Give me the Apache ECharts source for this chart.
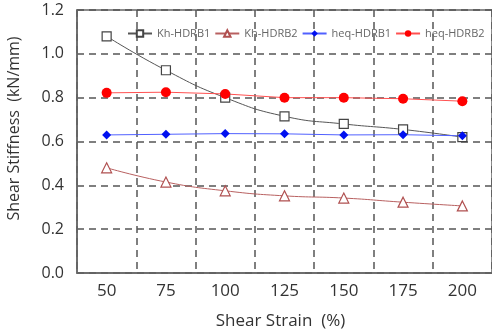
<!DOCTYPE html>
<html>
<head>
<meta charset="utf-8">
<script src="https://cdn.jsdelivr.net/npm/echarts@6/dist/echarts.min.js"></script>
<style>
  html, body { margin: 0; padding: 0; background: #fff; }
  #chart { width: 492px; height: 333px; }
</style>
</head>
<body>
<div id="chart"></div>
<script>
// 剪切应变 (%)
var strains = ['50', '75', '100', '125', '150', '175', '200'];

var khHDRB1 = [1.08, 0.925, 0.80, 0.715, 0.68, 0.655, 0.62];
var khHDRB2 = [0.48, 0.415, 0.375, 0.352, 0.342, 0.323, 0.306];
var heqHDRB1 = [0.63, 0.633, 0.636, 0.635, 0.63, 0.631, 0.626];
var heqHDRB2 = [0.822, 0.825, 0.817, 0.80, 0.80, 0.795, 0.784];

var mcharts = echarts.init(document.getElementById('chart'));

var option = {
    animation: false,
    textStyle: {
        fontFamily: 'Open Sans'
    },
    grid: {
        left: 77,
        right: 0,
        top: 10,
        bottom: 60,
        show: true,
        borderColor: '#666',
        borderWidth: 1.5,
        outerBoundsMode: 'none'
    },
    legend: {
        top: 23,
        left: 122,
        itemWidth: 24,
        itemHeight: 8,
        itemGap: 4,
        textStyle: {
            fontSize: 11,
            color: '#666'
        },
        data: ['Kh-HDRB1', 'Kh-HDRB2', 'heq-HDRB1', 'heq-HDRB2']
    },
    xAxis: {
        type: 'category',
        data: strains,
        boundaryGap: true,
        name: 'Shear Strain  (%)',
        nameLocation: 'center',
        nameGap: 40,
        nameTextStyle: { fontSize: 17, color: '#333', padding: [0, 8, 0, 0] },
        axisLine: { lineStyle: { color: '#666', width: 1.5 } },
        axisTick: { show: false },
        axisLabel: { fontSize: 17, color: '#333', margin: 10 },
        splitLine: {
            show: true,
            lineStyle: { color: '#555', type: [7, 5], width: 1.5 }
        }
    },
    yAxis: {
        type: 'value',
        min: 0,
        max: 1.2,
        interval: 0.2,
        name: 'Shear Stiffness  (kN/mm)',
        nameLocation: 'center',
        nameRotate: 90,
        nameGap: 55,
        nameTextStyle: { fontSize: 16, color: '#333', padding: [0, 0, 0, 26] },
        axisLine: { show: true, lineStyle: { color: '#666', width: 1.5 } },
        axisTick: { show: false },
        axisLabel: {
            fontSize: 16,
            color: '#333',
            margin: 13,
            formatter: function (v) { return v.toFixed(1); }
        },
        splitLine: {
            show: true,
            lineStyle: { color: '#555', type: [7, 5], width: 1.5 }
        }
    },
    series: [
        {
            name: 'Kh-HDRB1',
            type: 'line',
            data: khHDRB1,
            smooth: true,
            symbol: 'rect',
            symbolSize: 9,
            lineStyle: { color: '#555', width: 1 },
            itemStyle: { color: '#fff', borderColor: '#444', borderWidth: 1.2 },
            z: 3
        },
        {
            name: 'Kh-HDRB2',
            type: 'line',
            data: khHDRB2,
            smooth: true,
            symbol: 'triangle',
            symbolSize: 10,
            lineStyle: { color: '#b86060', width: 1 },
            itemStyle: { color: '#fff', borderColor: '#b05050', borderWidth: 1.2 }
        },
        {
            name: 'heq-HDRB1',
            type: 'line',
            data: heqHDRB1,
            symbol: 'diamond',
            symbolSize: 9,
            lineStyle: { color: '#5060ff', width: 1 },
            itemStyle: { color: '#0010f0' }
        },
        {
            name: 'heq-HDRB2',
            type: 'line',
            data: heqHDRB2,
            symbol: 'circle',
            symbolSize: 10,
            lineStyle: { color: '#ff5050', width: 1 },
            itemStyle: { color: '#ff0000' }
        }
    ]
};

mcharts.setOption(option, true);
</script>
</body>
</html>
